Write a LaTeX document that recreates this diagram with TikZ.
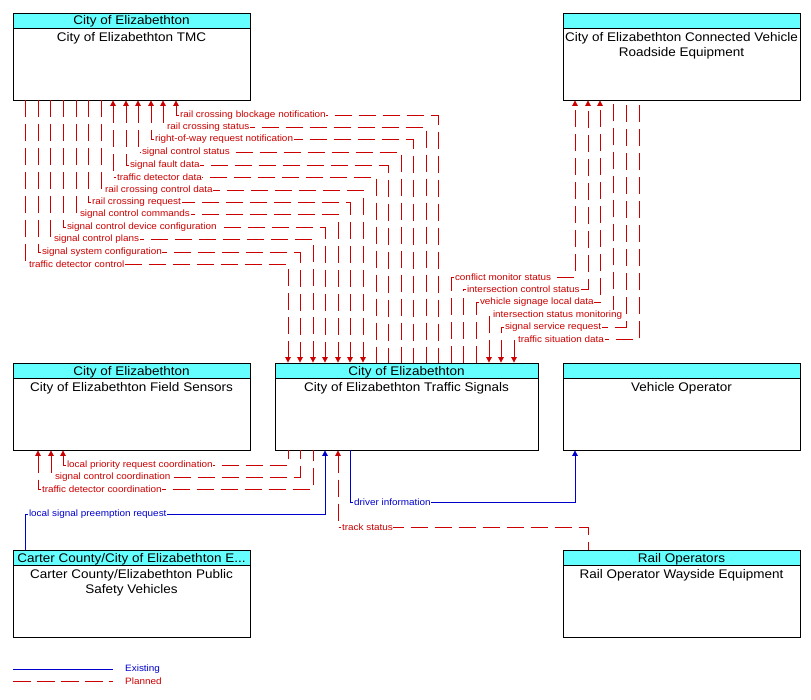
\documentclass[tikz,border=0pt]{standalone}
\usepackage{fontspec}
\setmainfont[FakeStretch=1.08]{Liberation Sans}
\usetikzlibrary{arrows.meta,positioning}
\definecolor{planred}{RGB}{204,0,0}
\definecolor{exblue}{RGB}{0,0,204}
\definecolor{headcyan}{RGB}{102,255,255}

\begin{document}
\begin{tikzpicture}[
    x=1pt, y=-1pt,
    sysbox/.style={draw, line width=0.8pt, rectangle, minimum width=237pt, minimum height=87pt, inner sep=0pt},
    headbox/.style={draw, line width=0.8pt, fill=headcyan, rectangle, minimum width=237pt, minimum height=15pt, inner sep=0pt, text height=9pt, text depth=0pt, font=\fontsize{12.5}{15}\selectfont},
    titletext/.style={align=center, inner sep=2pt, font=\fontsize{12.5}{15}\selectfont},
    planned/.style={draw=planred, line width=0.8pt, dash pattern=on 17pt off 7pt},
    existing/.style={draw=exblue, line width=0.8pt},
    flowlabel/.style={pos=0, anchor=west, xshift=3pt, fill=white, inner sep=0.6pt, text=planred, font=\fontsize{9.2}{10}\selectfont},
    legendtext/.style={anchor=west, inner sep=0pt, font=\fontsize{9.2}{10}\selectfont},
    >={Triangle[width=5.5pt,length=5.5pt]}
]
    \useasboundingbox (0,0) rectangle (811,700);

    % systems
    \node[sysbox] (tmc) at (131.5,56.5) {};
    \node[headbox, anchor=north] (tmchead) at (tmc.north) {City of Elizabethton};
    \node[titletext, below=2pt of tmchead] (tmctitle) {City of Elizabethton TMC};

    \node[sysbox] (rse) at (681.5,56.5) {};
    \node[headbox, anchor=north] (rsehead) at (rse.north) {};
    \node[titletext, below=2pt of rsehead] (rsetitle) {City of Elizabethton Connected Vehicle\\Roadside Equipment};

    \node[sysbox] (fs) at (131.5,406.5) {};
    \node[headbox, anchor=north] (fshead) at (fs.north) {City of Elizabethton};
    \node[titletext, below=2pt of fshead] (fstitle) {City of Elizabethton Field Sensors};

    \node[sysbox, minimum width=263pt] (sig) at (406.5,406.5) {};
    \node[headbox, minimum width=263pt, anchor=north] (sighead) at (sig.north) {City of Elizabethton};
    \node[titletext, below=2pt of sighead] (sigtitle) {City of Elizabethton Traffic Signals};

    \node[sysbox] (vo) at (681.5,406.5) {};
    \node[headbox, anchor=north] (vohead) at (vo.north) {};
    \node[titletext, below=2pt of vohead] (votitle) {Vehicle Operator};

    \node[sysbox] (cc) at (131.5,593.5) {};
    \node[headbox, anchor=north] (cchead) at (cc.north) {Carter County/City of Elizabethton E...};
    \node[titletext, below=2pt of cchead] (cctitle) {Carter County/Elizabethton Public\\Safety Vehicles};

    \node[sysbox] (rail) at (681.5,593.5) {};
    \node[headbox, anchor=north] (railhead) at (rail.north) {Rail Operators};
    \node[titletext, below=2pt of railhead] (railtitle) {Rail Operator Wayside Equipment};

    % TMC <-> traffic signals
    \draw[planned,->] (25,0 |- tmc.south) -- (25,264) -- node[flowlabel] {traffic detector control} (288,264) -- (288,0 |- sig.north);
    \draw[planned,->] (38,0 |- tmc.south) -- (38,252) -- node[flowlabel] {signal system configuration} (300,252) -- (300,0 |- sig.north);
    \draw[planned,->] (50,0 |- tmc.south) -- (50,239) -- node[flowlabel] {signal control plans} (313,239) -- (313,0 |- sig.north);
    \draw[planned,->] (63,0 |- tmc.south) -- (63,227) -- node[flowlabel] {signal control device configuration} (325,227) -- (325,0 |- sig.north);
    \draw[planned,->] (76,0 |- tmc.south) -- (76,214) -- node[flowlabel] {signal control commands} (338,214) -- (338,0 |- sig.north);
    \draw[planned,->] (88,0 |- tmc.south) -- (88,202) -- node[flowlabel] {rail crossing request} (350,202) -- (350,0 |- sig.north);
    \draw[planned,->] (101,0 |- tmc.south) -- (101,190) -- node[flowlabel] {rail crossing control data} (363,190) -- (363,0 |- sig.north);
    \draw[planned,<-] (113,0 |- tmc.south) -- (113,177) -- node[flowlabel] {traffic detector data} (376,177) -- (376,0 |- sig.north);
    \draw[planned,<-] (126,0 |- tmc.south) -- (126,165) -- node[flowlabel] {signal fault data} (388,165) -- (388,0 |- sig.north);
    \draw[planned,<-] (138,0 |- tmc.south) -- (138,152) -- node[flowlabel] {signal control status} (401,152) -- (401,0 |- sig.north);
    \draw[planned,<-] (151,0 |- tmc.south) -- (151,139) -- node[flowlabel] {right-of-way request notification} (413,139) -- (413,0 |- sig.north);
    \draw[planned,<-] (163,0 |- tmc.south) -- (163,127) -- node[flowlabel] {rail crossing status} (426,127) -- (426,0 |- sig.north);
    \draw[planned,<-] (176,0 |- tmc.south) -- (176,115) -- node[flowlabel] {rail crossing blockage notification} (438,115) -- (438,0 |- sig.north);

    % traffic signals <-> roadside equipment
    \draw[planned,->] (451,0 |- sig.north) -- (451,277) -- node[flowlabel] {conflict monitor status} (575,277) -- (575,0 |- rse.south);
    \draw[planned,->] (463,0 |- sig.north) -- (463,289) -- node[flowlabel] {intersection control status} (588,289) -- (588,0 |- rse.south);
    \draw[planned,->] (476,0 |- sig.north) -- (476,302) -- node[flowlabel] {vehicle signage local data} (600,302) -- (600,0 |- rse.south);
    \draw[planned,<-] (489,0 |- sig.north) -- (489,315) -- node[flowlabel] {intersection status monitoring} (613,315) -- (613,0 |- rse.south);
    \draw[planned,<-] (501,0 |- sig.north) -- (501,327) -- node[flowlabel] {signal service request} (626,327) -- (626,0 |- rse.south);
    \draw[planned,<-] (514,0 |- sig.north) -- (514,339) -- node[flowlabel] {traffic situation data} (639,339) -- (639,0 |- rse.south);

    % field sensors, vehicles, operators
    \draw[planned,<-] (63,0 |- fs.south) -- (63,465) -- node[flowlabel] {local priority request coordination} (288,465) -- (288,0 |- sig.south);
    \draw[planned,<-] (51,0 |- fs.south) -- (51,477) -- node[flowlabel] {signal control coordination} (300,477) -- (300,0 |- sig.south);
    \draw[planned,<-] (38,0 |- fs.south) -- (38,489) -- node[flowlabel] {traffic detector coordination} (313,489) -- (313,0 |- sig.south);
    \draw[existing,->] (25,0 |- cc.north) -- (25,514) -- node[flowlabel, text=exblue] {local signal preemption request} (325,514) -- (325,0 |- sig.south);
    \draw[existing,->] (350,0 |- sig.south) -- (350,502) -- node[flowlabel, text=exblue] {driver information} (575,502) -- (575,0 |- vo.south);
    \draw[planned,<-] (338,0 |- sig.south) -- (338,527) -- node[flowlabel] {track status} (588,527) -- (588,0 |- rail.north);

    % legend
    \coordinate (exA) at (13,669);
    \coordinate (exB) at (113,669);
    \coordinate (plA) at (13,681);
    \coordinate (plB) at (113,681);
    \draw[existing] (exA) -- (exB);
    \draw[planned, dash pattern=on 18pt off 6pt] (plA) -- (plB);
    \node[legendtext, text=exblue] (exlabel) at (125,669) {Existing};
    \node[legendtext, text=planred] (pllabel) at (125,681) {Planned};
\end{tikzpicture}
\end{document}
